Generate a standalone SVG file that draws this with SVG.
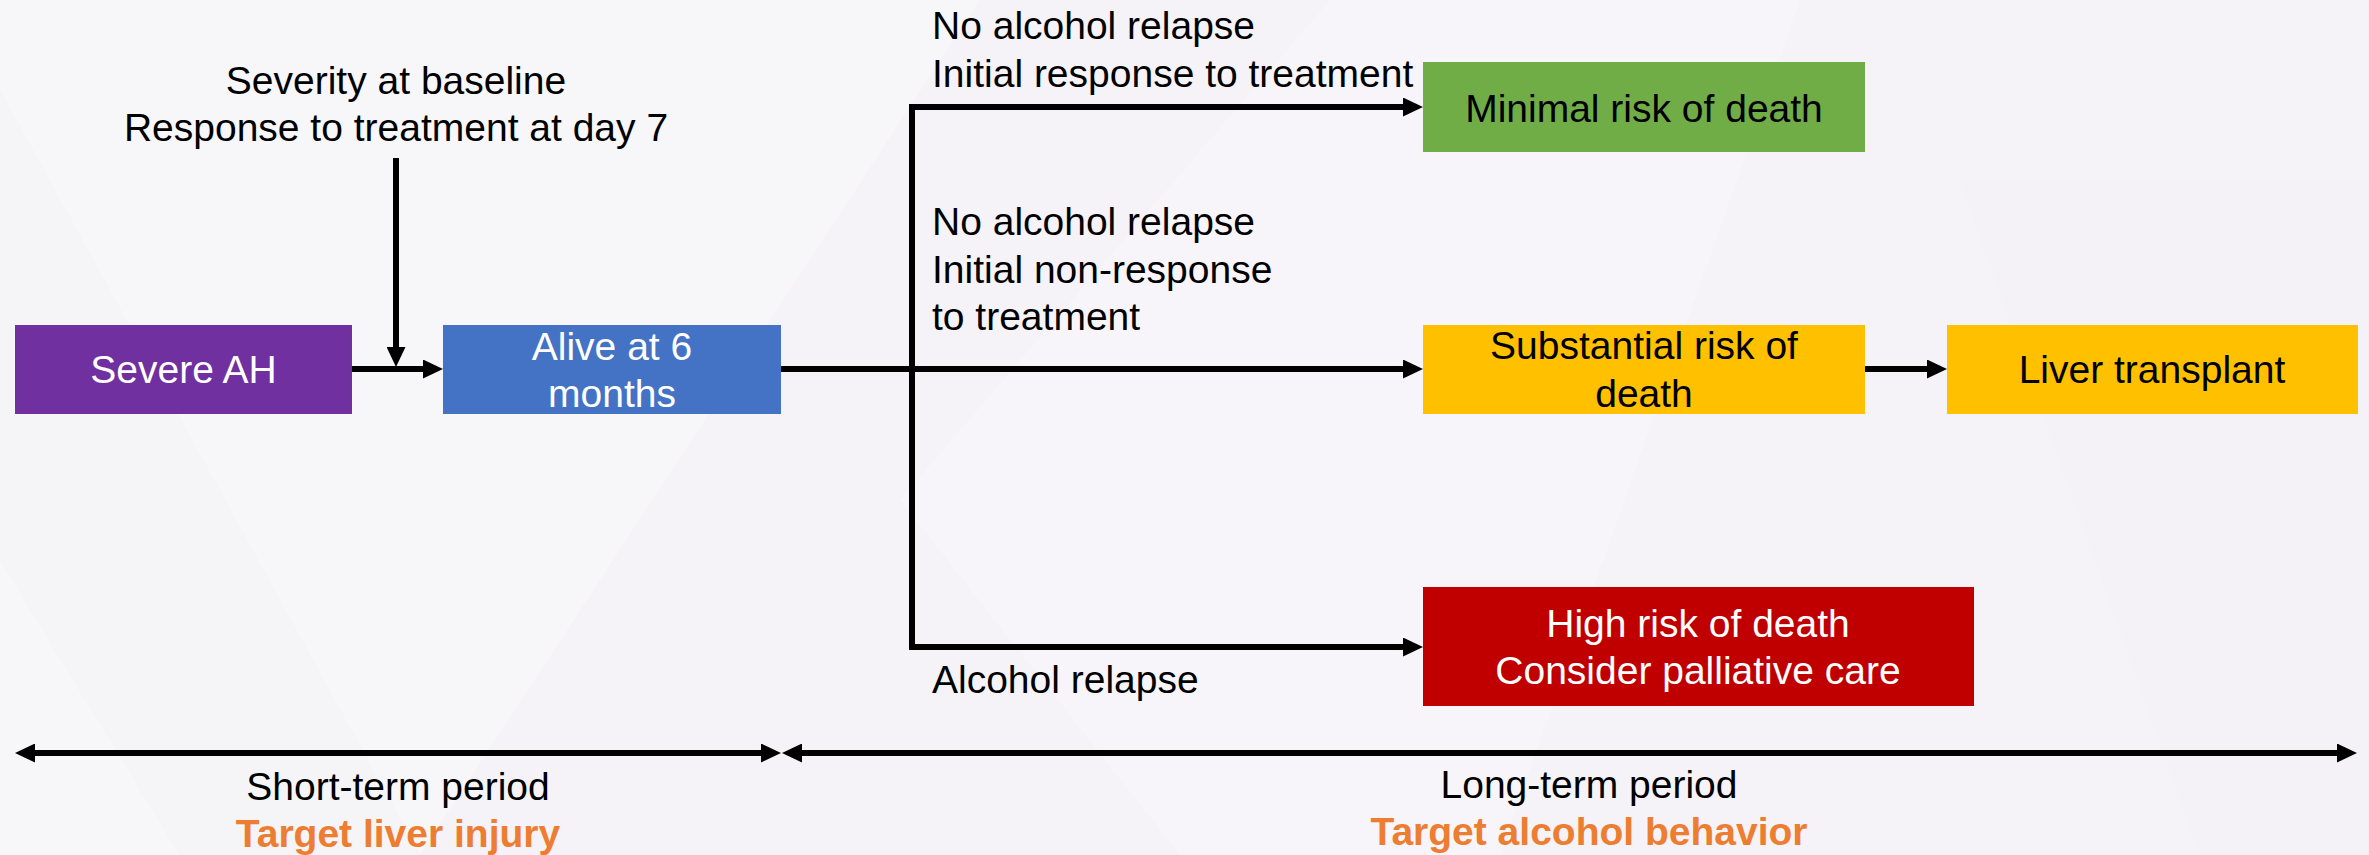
<svg xmlns="http://www.w3.org/2000/svg" width="2369" height="855" viewBox="0 0 2369 855">
  <defs>
    <marker id="arrow" markerUnits="userSpaceOnUse" markerWidth="20" markerHeight="19" viewBox="0 0 20 19" refX="2" refY="9.5" orient="auto-start-reverse">
      <path d="M0,0 L20,9.5 L0,19 z" fill="#000"/>
    </marker>
    <style>
      .txt { font-family: "Liberation Sans", Arial, sans-serif; font-size: 39px; }
      .dark { fill: #000; }
      .light { fill: #fff; }
      .mid { text-anchor: middle; }
      .accent { fill: #ED7D31; font-weight: bold; }
      .conn { fill: none; stroke: #000; stroke-width: 6; }
    </style>
  </defs>

  <!-- slide background with faint geometric facets -->
  <rect x="0" y="0" width="2369" height="855" fill="#F5F3F7"/>
  <polygon points="0,0 980,0 420,855 0,855" fill="#F8F7FA" opacity="0.7"/>
  <polygon points="0,90 0,560 180,855 420,855" fill="#F4F2F6" opacity="0.5"/>
  <polygon points="900,500 1330,0 1800,0 1500,855 1180,855" fill="#F8F7FA" opacity="0.6"/>
  <polygon points="1960,180 2369,180 2369,855 2200,855" fill="#F3F1F5" opacity="0.5"/>

  <!-- connectors -->
  <g id="connectors">
    <path class="conn" d="M396,158 V349" marker-end="url(#arrow)"/>
    <path class="conn" d="M352,369 H425" marker-end="url(#arrow)"/>
    <path class="conn" d="M781,369 H1405" marker-end="url(#arrow)"/>
    <path class="conn" d="M912,369 V107 H1405" marker-end="url(#arrow)"/>
    <path class="conn" d="M912,369 V647 H1405" marker-end="url(#arrow)"/>
    <path class="conn" d="M1865,369 H1929" marker-end="url(#arrow)"/>
    <path class="conn" d="M33,753 H763" marker-start="url(#arrow)" marker-end="url(#arrow)"/>
    <path class="conn" d="M800,753 H2339" marker-start="url(#arrow)" marker-end="url(#arrow)"/>
  </g>

  <!-- connector labels -->
  <g id="labels" class="txt dark">
    <text class="mid" x="396" y="94">Severity at baseline</text>
    <text class="mid" x="396" y="141">Response to treatment at day 7</text>
    <text x="932" y="39">No alcohol relapse</text>
    <text x="932" y="87">Initial response to treatment</text>
    <text x="932" y="235">No alcohol relapse</text>
    <text x="932" y="283">Initial non-response</text>
    <text x="932" y="330">to treatment</text>
    <text x="932" y="693">Alcohol relapse</text>
  </g>

  <!-- nodes -->
  <g id="severe-ah">
    <rect x="15" y="325" width="337" height="89" fill="#7030A0"/>
    <text class="txt light mid" x="183.5" y="383">Severe AH</text>
  </g>
  <g id="alive-6-months">
    <rect x="443" y="325" width="338" height="89" fill="#4472C4"/>
    <text class="txt light mid" x="612" y="360">Alive at 6</text>
    <text class="txt light mid" x="612" y="407">months</text>
  </g>
  <g id="minimal-risk">
    <rect x="1423" y="62" width="442" height="90" fill="#70AD47"/>
    <text class="txt dark mid" x="1644" y="122">Minimal risk of death</text>
  </g>
  <g id="substantial-risk">
    <rect x="1423" y="325" width="442" height="89" fill="#FFC000"/>
    <text class="txt dark mid" x="1644" y="359">Substantial risk of</text>
    <text class="txt dark mid" x="1644" y="407">death</text>
  </g>
  <g id="liver-transplant">
    <rect x="1947" y="325" width="411" height="89" fill="#FFC000"/>
    <text class="txt dark mid" x="2152" y="383">Liver transplant</text>
  </g>
  <g id="high-risk">
    <rect x="1423" y="587" width="551" height="119" fill="#C00000"/>
    <text class="txt light mid" x="1698" y="637">High risk of death</text>
    <text class="txt light mid" x="1698" y="684">Consider palliative care</text>
  </g>

  <!-- period captions -->
  <g id="period-captions" class="txt">
    <text class="dark mid" x="398" y="800">Short-term period</text>
    <text class="accent mid" x="398" y="847">Target liver injury</text>
    <text class="dark mid" x="1589" y="798">Long-term period</text>
    <text class="accent mid" x="1589" y="845">Target alcohol behavior</text>
  </g>
</svg>
